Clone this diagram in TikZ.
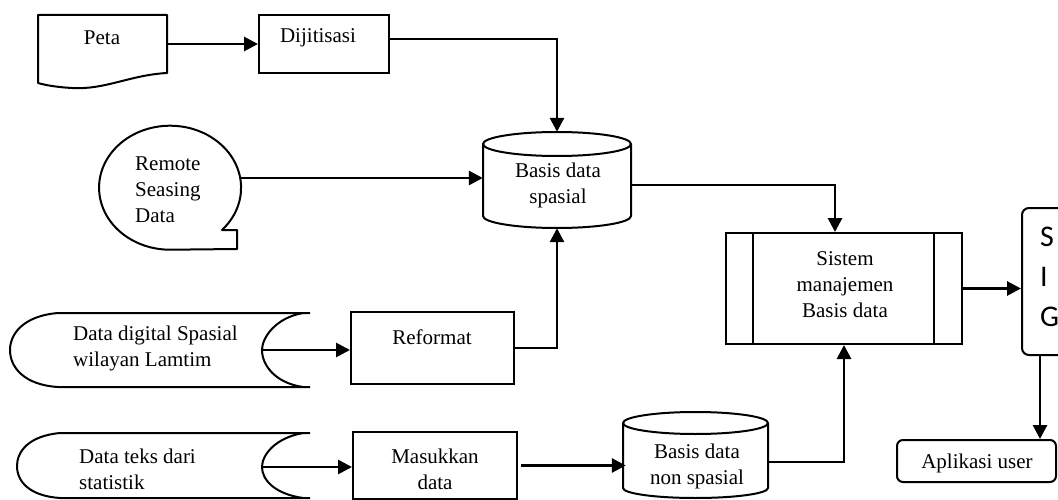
\documentclass[tikz,border=0pt]{standalone}
\usepackage{fontspec}
\setmainfont{Liberation Serif}
\newfontfamily\sigfont{Carlito}
\usetikzlibrary{arrows.meta,calc}

\begin{document}
\begin{tikzpicture}[x=1pt,y=-1pt,
  shape line/.style={draw=black,line width=2pt,line join=round},
  boxnode/.style={draw=black,line width=2pt,rectangle,inner sep=0pt},
  hold/.style={rectangle,inner sep=0pt,draw=none},
  label text/.style={font=\fontsize{21}{26}\selectfont,align=center,inner sep=0pt},
  flow/.style={draw=black,line width=2.8pt,-{Triangle[length=14pt,width=14pt]}}]

\useasboundingbox (0,0) rectangle (1058,500);
\clip (0,0) rectangle (1058,500);

% ---------- Peta (document symbol) ----------
\node[hold,minimum width=129pt,minimum height=58pt] (peta) at (102.5,44) {};
\draw[shape line] (38,15) -- (167,15) -- (167,73)
  .. controls (130,75) and (105,90) .. (72,88)
  .. controls (55,87) and (45,85) .. (38,83) -- cycle;
\node[label text] at (102,38) {Peta};

% ---------- Dijitisasi ----------
\node[boxnode,minimum width=130pt,minimum height=58pt] (dij) at (324,44) {};
\node[label text] at (318,38) {Dijitisasi};

% ---------- Remote sensing data (tape symbol) ----------
\node[hold,minimum width=142pt,minimum height=125pt] (rs) at (169,187) {};
\draw[shape line] (222,230) arc[start angle=43,end angle=-270,x radius=71,y radius=62]
  -- (237,249) -- (237,230) -- cycle;
\coordinate (rsout) at (241,178);
\node[label text,align=left,anchor=west] at (135,189.5) {Remote\\Seasing\\Data};

% ---------- Basis data spasial (cylinder) ----------
\node[hold,minimum width=148pt,minimum height=96pt] (bds) at (557,180) {};
\draw[shape line] (483,144) -- (483,216) arc[start angle=180,end angle=360,x radius=74,y radius=-12]
  -- (631,144);
\draw[shape line] (557,144) ellipse[x radius=74,y radius=12];
\node[label text] at (558,185.5) {Basis data\\spasial};

% ---------- Data digital spasial (stored data symbol) ----------
\node[hold,minimum width=300pt,minimum height=74pt] (dd) at (160,350) {};
\draw[shape line] (310,313) -- (58,313) .. controls (22,316) and (10,335) .. (10,350)
  .. controls (10,368) and (25,385) .. (58,387) -- (310,387);
\draw[shape line] (303,313) .. controls (275,318) and (262,338) .. (262,350)
  .. controls (262,365) and (275,383) .. (303,387);
\coordinate (ddout) at (262,350);
\node[label text,align=left,anchor=west] at (73,348.5) {Data digital Spasial\\wilayan Lamtim};

% ---------- Reformat ----------
\node[boxnode,minimum width=163pt,minimum height=72pt] (ref) at (432.5,348) {};
\node[label text] at (432,337) {Reformat};

% ---------- Data teks (stored data symbol) ----------
\node[hold,minimum width=300pt,minimum height=65pt] (dt) at (160,466) {};
\draw[shape line] (310,433) -- (60,433) .. controls (28,436) and (17,452) .. (17,466)
  .. controls (17,482) and (30,496) .. (60,498) -- (310,498);
\draw[shape line] (303,433) .. controls (275,438) and (262,455) .. (262,467)
  .. controls (262,480) and (275,494) .. (303,498);
\coordinate (dtout) at (262,467);
\node[label text,align=left,anchor=west] at (79,469.5) {Data teks dari\\statistik};

% ---------- Masukkan data ----------
\node[boxnode,minimum width=164pt,minimum height=67pt] (mas) at (435,465.5) {};
\node[label text] at (435,469.5) {Masukkan\\data};

% ---------- Basis data non spasial (cylinder) ----------
\node[hold,minimum width=145pt,minimum height=87pt] (nbd) at (695.5,462) {};
\draw[shape line] (623,423) -- (623,488) arc[start angle=180,end angle=360,x radius=72.5,y radius=-10]
  -- (768,423);
\draw[shape line] (695.5,423) ellipse[x radius=72.5,y radius=11];
\node[label text] at (697,466.5) {Basis data\\non spasial};

% ---------- Sistem manajemen basis data (predefined process) ----------
\node[boxnode,minimum width=236pt,minimum height=111pt] (sis) at (844,288.5) {};
\draw[shape line] (753,233) -- (753,344);
\draw[shape line] (934,233) -- (934,344);
\node[label text] at (845,285) {Sistem\\manajemen\\Basis data};

% ---------- SIG ----------
\node[boxnode,rounded corners=7pt,minimum width=60pt,minimum height=147pt] (sig) at (1052,281.5) {};
\node[font=\sigfont\fontsize{30}{40}\selectfont,align=left,anchor=west,inner sep=0pt] at (1040,277) {S\\I\\G};
\coordinate (sigout) at ([xshift=19pt]sig.south west);

% ---------- Aplikasi user ----------
\node[boxnode,rounded corners=6pt,minimum width=159pt,minimum height=42pt] (apl) at (976.5,461) {};
\node[label text] at (977,463) {Aplikasi user};

% ---------- connectors ----------
\draw[flow] (peta.east) -- (dij.west);
\draw[flow] ([yshift=5pt]dij.east) -| (bds.north);
\draw[flow] (rsout) -- (rsout -| bds.west);
\draw[flow] (ref.east) -| (bds.south);
\draw[flow] (ddout) -- (ddout -| ref.west);
\draw[flow] (dtout) -- (dtout -| mas.west);
\draw[flow] ([xshift=3pt]mas.east) -- ([xshift=3pt]mas.east -| nbd.west);
\draw[flow] ([yshift=-5pt]bds.east) -| ([xshift=-9pt]sis.north);
\draw[flow] (nbd.east) -| (sis.south);
\draw[flow] (sis.east) -- (sis.east -| sig.west);
\draw[flow] (sigout) -- (sigout |- apl.north);

\end{tikzpicture}
\end{document}
